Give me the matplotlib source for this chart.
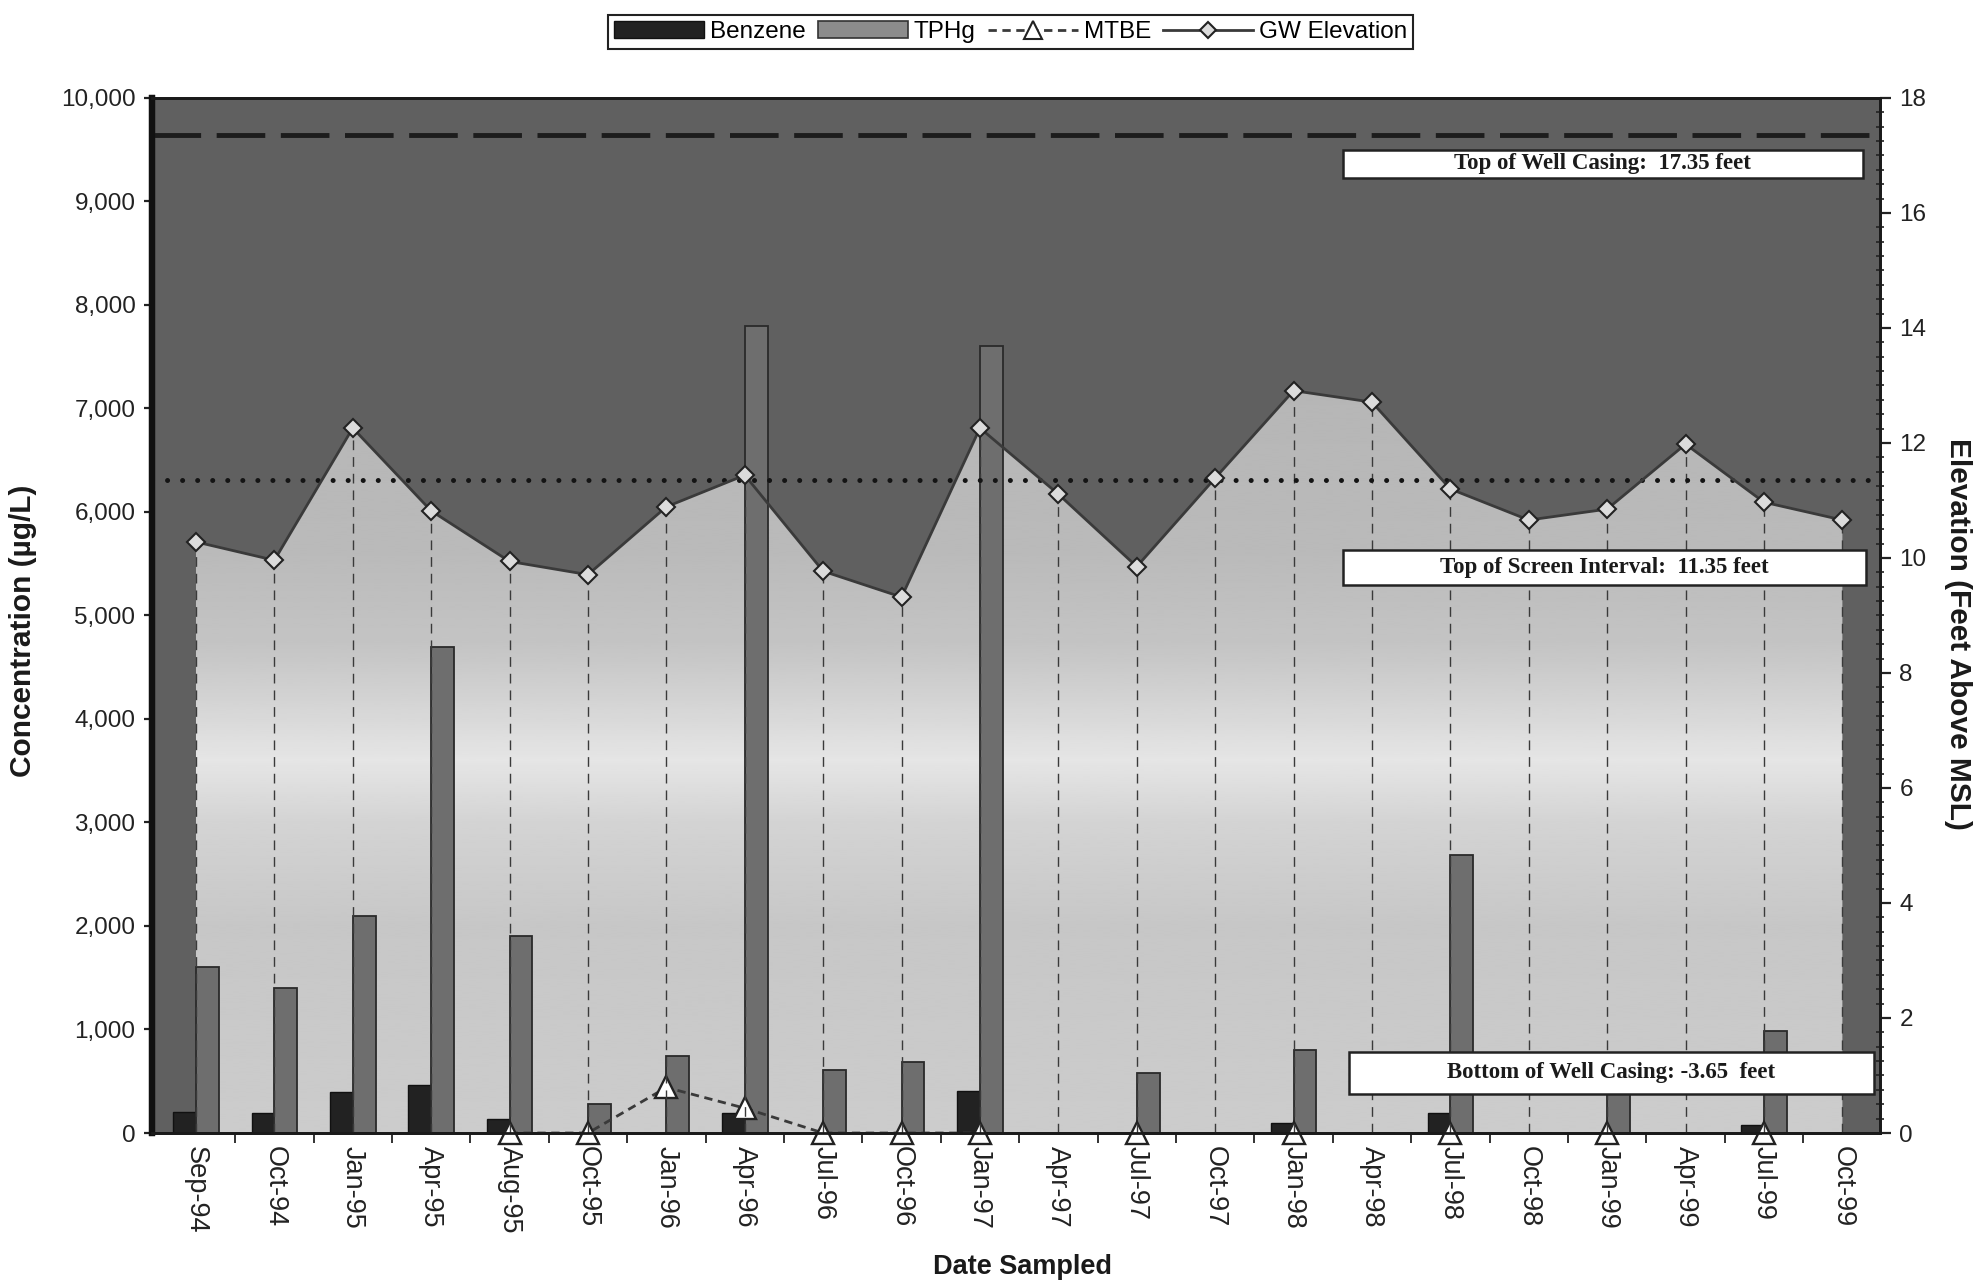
"""Benzene / TPHg / MTBE concentrations with groundwater elevation for one monitoring well."""

import numpy as np
import matplotlib

matplotlib.use("Agg")
import matplotlib.pyplot as plt
from matplotlib.lines import Line2D
from matplotlib.patches import Patch, Rectangle
from matplotlib.ticker import MultipleLocator, FuncFormatter

plt.rcParams["font.family"] = ["Liberation Sans", "DejaVu Sans"]

# sampling events
dates = ["Sep-94", "Oct-94", "Jan-95", "Apr-95", "Aug-95", "Oct-95", "Jan-96", "Apr-96",
         "Jul-96", "Oct-96", "Jan-97", "Apr-97", "Jul-97", "Oct-97", "Jan-98", "Apr-98",
         "Jul-98", "Oct-98", "Jan-99", "Apr-99", "Jul-99", "Oct-99"]

# concentrations, ug/L
benzene = [200, 190, 400, 460, 140, 0, 0, 190, 0, 0, 410, 0,
           0, 0, 100, 0, 190, 0, 0, 0, 80, 0]
tphg = [1600, 1400, 2100, 4700, 1900, 280, 740, 7800, 610, 690, 7600, 0,
        580, 0, 800, 0, 2690, 0, 600, 0, 990, 0]
nan = np.nan
mtbe = [nan, nan, nan, nan, 0, 0, 440, 240, 0, 0, 0, nan,
        0, nan, 0, nan, 0, nan, 0, nan, 0, nan]

# groundwater elevation, feet above MSL
gw_elev = [10.28, 9.96, 12.26, 10.82, 9.94, 9.71, 10.89, 11.44, 9.77, 9.32, 12.26, 11.11,
           9.85, 11.39, 12.91, 12.71, 11.20, 10.66, 10.85, 11.98, 10.97, 10.66]

# well construction, feet above MSL
CASING_TOP = 17.35
SCREEN_TOP = 11.35
CASING_BOTTOM = -3.65

x = np.arange(len(dates))

fig = plt.figure(figsize=(19.8, 12.84), dpi=100)
ax = fig.add_axes([0.0768, 0.1176, 0.8727, 0.8061])
ax2 = ax.twinx()

ax.set_facecolor("#606060")

# light area under the water level, shaded top to bottom
gw_fill = ax.fill_between(x, gw_elev, 0, transform=ax2.transData,
                          facecolor="none", edgecolor="none", zorder=0.6)
stops = [0.0, 0.20, 0.30, 0.36, 0.40, 0.47, 0.56, 0.75]
levels = [0.80, 0.78, 0.83, 0.90, 0.85, 0.77, 0.73, 0.71]
shade = np.interp(np.linspace(0, 1, 500), stops, levels)[::-1].reshape(-1, 1)
img = ax.imshow(shade, extent=(0, 1, 0, 1), transform=ax.transAxes, cmap="gray",
                vmin=0, vmax=1, aspect="auto", interpolation="bilinear", zorder=0.5)
img.set_clip_path(gw_fill.get_paths()[0], gw_fill.get_transform())

# concentration bars
w = 0.29
ax.bar(x - w / 2, benzene, w, color="#222222", edgecolor="#111111", lw=1.0, zorder=2)
ax.bar(x + w / 2, tphg, w, color="#6e6e6e", edgecolor="#2a2a2a", lw=1.3, zorder=2)

# MTBE on the concentration axis
ax.plot(x, mtbe, color="#3a3a3a", lw=2.0, dashes=(3, 2), marker="^", ms=16,
        mfc="white", mec="#222222", mew=1.7, zorder=3, clip_on=False)

ax.set_xlim(-0.56, 21.48)
ax.set_ylim(0, 10000)
ax.yaxis.set_major_locator(MultipleLocator(1000))
ax.yaxis.set_major_formatter(FuncFormatter(lambda v, _: f"{v:,.0f}"))
ax.set_xticks(x)
ax.set_xticklabels(dates, rotation=-90, ha="center", va="top", fontsize=19.5)
ax.set_xticks(x[:-1] + 0.5, minor=True)
ax.tick_params(axis="x", which="major", length=0, pad=9, colors="#222222")
ax.tick_params(axis="x", which="minor", length=7, width=1.3, direction="out", color="#222222")
ax.tick_params(axis="y", which="major", length=6, width=1.6, direction="out",
               labelsize=17.5, pad=6, colors="#222222")

# elevation axis: drop lines, well construction lines, water level
ax2.set_ylim(0, 18)
ax2.yaxis.set_major_locator(MultipleLocator(2))
ax2.yaxis.set_minor_locator(MultipleLocator(0.25))
ax2.tick_params(axis="y", which="major", length=8, width=1.6, direction="out",
                labelsize=17.5, pad=6, colors="#222222")
ax2.tick_params(axis="y", which="minor", length=6, width=1.2, direction="inout", color="#222222")

ax2.vlines(x, 0, gw_elev, colors="#3a3a3a", linestyles=(0, (7, 5)), lw=1.0, zorder=1)
ax2.axhline(CASING_TOP, color="#1c1c1c", lw=3.5, dashes=(10, 3.2), zorder=2)
ax2.axhline(SCREEN_TOP, color="#141414", lw=3.6, dashes=(0.01, 3.0),
            dash_capstyle="round", zorder=2)
ax2.plot(x, gw_elev, color="#3a3a3a", lw=2.0, marker="D", ms=9, mfc="#dcdcdc",
         mec="#222222", mew=1.5, zorder=4)

for a in (ax, ax2):
    for side in ("top", "bottom", "right"):
        a.spines[side].set_color("#1a1a1a")
        a.spines[side].set_linewidth(2)
    a.spines["left"].set_color("#111111")
    a.spines["left"].set_linewidth(4.5)


def note_box(x0, x1, y0, y1, text):
    ax2.add_patch(Rectangle((x0, y0), x1 - x0, y1 - y0, transform=ax2.transAxes,
                            facecolor="white", edgecolor="#222222", lw=1.8, zorder=6))
    ax2.text((x0 + x1) / 2, (y0 + y1) / 2, text, transform=ax2.transAxes,
             ha="center", va="center", fontsize=16.5, fontweight="bold",
             family="Liberation Serif", color="#1a1a1a", zorder=7)


note_box(0.689, 0.990, 0.923, 0.950, f"Top of Well Casing:  {CASING_TOP:.2f} feet")
note_box(0.689, 0.992, 0.529, 0.563, f"Top of Screen Interval:  {SCREEN_TOP:.2f} feet")
note_box(0.6925, 0.9963, 0.038, 0.078, f"Bottom of Well Casing: {CASING_BOTTOM:.2f}  feet")

# axis titles
fig.text(0.0116, 0.5086, "Concentration (µg/L)", rotation=90, ha="center", va="center",
         fontsize=21.5, fontweight="bold", color="#1a1a1a")
fig.text(0.989, 0.506, "Elevation (Feet Above MSL)", rotation=-90, ha="center", va="center",
         fontsize=21.5, fontweight="bold", color="#1a1a1a")
fig.text(0.5166, 0.0135, "Date Sampled", ha="center", va="center",
         fontsize=19.5, fontweight="bold", color="#1a1a1a")

handles = [
    Patch(facecolor="#222222", edgecolor="#111111"),
    Patch(facecolor="#8c8c8c", edgecolor="#333333", lw=1.2),
    Line2D([], [], color="#3a3a3a", lw=2.0, dashes=(3, 2), marker="^", ms=13,
           mfc="white", mec="#222222", mew=1.5),
    Line2D([], [], color="#3a3a3a", lw=2.0, marker="D", ms=8, mfc="#dcdcdc",
           mec="#222222", mew=1.5),
]
leg = fig.legend(handles, ["Benzene", "TPHg", "MTBE", "GW Elevation"], loc="center",
                 bbox_to_anchor=(0.5104, 0.975), ncol=4, fontsize=17.5, frameon=True,
                 fancybox=False, edgecolor="#222222", framealpha=1, handlelength=3.7,
                 handletextpad=0.25, columnspacing=0.5, borderpad=0.25, borderaxespad=0)
leg.get_frame().set_linewidth(1.5)

fig.savefig("out.png", dpi=100, facecolor="white")
